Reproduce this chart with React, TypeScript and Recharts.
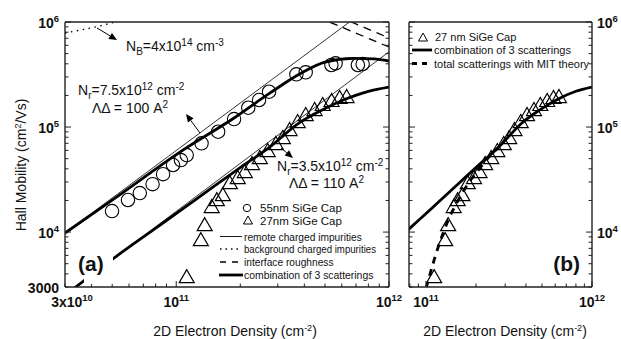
import React from 'react';
import { ComposedChart, Line, Scatter, XAxis, YAxis } from 'recharts';

const FONT = '"Liberation Sans", Arial, Helvetica, sans-serif';
const INK = '#111';

// ---- measured data (read off the figure) ----
// 55 nm SiGe cap, circles
const cap55Density = [4.99e10, 5.93e10, 6.74e10, 7.74e10, 8.67e10, 9.66e10, 1.052e11, 1.12e11, 1.315e11, 1.574e11, 1.87e11, 2.18e11, 2.45e11, 2.73e11, 3.67e11, 4.06e11, 5.36e11, 5.61e11, 7.14e11, 7.52e11];
const cap55Mobility = [15850, 20200, 23500, 28600, 35600, 43500, 48500, 54100, 70000, 90200, 119200, 152700, 180800, 216800, 317600, 332000, 389600, 404600, 389600, 398000];

// 27 nm SiGe cap, triangles (same points in both panels)
const cap27Density = [1.12e11, 1.305e11, 1.36e11, 1.468e11, 1.552e11, 1.656e11, 1.786e11, 1.946e11, 2.1e11, 2.27e11, 2.47e11, 2.69e11, 2.94e11, 3.17e11, 3.41e11, 3.72e11, 4.06e11, 4.47e11, 4.88e11, 5.37e11, 5.86e11, 6.32e11];
const cap27Mobility = [3810, 8570, 11900, 17700, 20600, 23000, 29900, 33400, 38100, 45400, 51800, 60400, 70400, 80300, 95700, 114000, 133000, 148400, 165700, 180800, 193100, 197300];

// combination of 3 scatterings
const comb55Density = [3e10, 5.4e10, 1.07e11, 1.87e11, 2.75e11, 3.8e11, 5e11, 6.8e11, 8.5e11, 1e12];
const comb55Mobility = [9800, 22500, 60000, 122000, 210000, 320000, 415000, 450000, 445000, 425000];
const comb27Density = [3e10, 5.15e10, 7.8e10, 1.04e11, 1.4e11, 2.03e11, 2.7e11, 3.8e11, 4.8e11, 6.1e11, 8e11, 1e12];
const comb27Mobility = [2500, 5750, 10500, 15900, 24500, 42000, 62700, 110000, 144000, 181000, 219000, 240000];

// remote charged impurities (straight on log-log)
const remote55Density = [3e10, 1e12];
const remote55Mobility = [9800, 1.9e6];
const remote27Density = [3e10, 1e12];
const remote27Mobility = [2530, 520000];

// background charged impurities
const bgDensity = [3e10, 4.2e10, 7e10];
const bgMobility = [786000, 900000, 1.2e6];

// interface roughness
const irADensity = [4e11, 1e12];
const irAMobility = [1.26e6, 578000];
const irBDensity = [5e11, 1e12];
const irBMobility = [1.28e6, 705000];

// total scatterings with MIT theory (panel b)
const mitDensity = [1.0e11, 1.186e11, 1.362e11, 1.566e11, 1.8e11, 2.066e11, 2.37e11, 2.7e11];
const mitMobility = [2900, 7250, 13000, 20200, 29100, 38900, 51000, 62700];

// axis ranges and tick labels
const xDomainA: [number, number] = [3e10, 1e12];
const xDomainB: [number, number] = [7.9e10, 1e12];
const yDomain: [number, number] = [3000, 1e6];

type TickLabel = { value: number; base: string; sup?: string };
const xLabelsA: TickLabel[] = [
  { value: 3e10, base: '3x10', sup: '10' },
  { value: 1e11, base: '10', sup: '11' },
  { value: 1e12, base: '10', sup: '12' },
];
const xLabelsB: TickLabel[] = [
  { value: 1e11, base: '10', sup: '11' },
  { value: 1e12, base: '10', sup: '12' },
];
const yLabelsA: TickLabel[] = [
  { value: 1e6, base: '10', sup: '6' },
  { value: 1e5, base: '10', sup: '5' },
  { value: 1e4, base: '10', sup: '4' },
  { value: 3000, base: '3000' },
];
const yLabelsB: TickLabel[] = [
  { value: 1e6, base: '10', sup: '6' },
  { value: 1e5, base: '10', sup: '5' },
  { value: 1e4, base: '10', sup: '4' },
];

const zip = (xs: number[], ys: number[]) => xs.map((x, i) => ({ x, y: ys[i] }));

const logTicks = (lo: number, hi: number) => {
  const out: number[] = [];
  for (let e = 3; e <= 12; e++) {
    for (let m = 1; m < 10; m++) {
      const v = m * 10 ** e;
      if (v >= lo * 0.999 && v <= hi * 1.001) out.push(v);
    }
  }
  return out;
};

const isMajor = (v: number) => {
  const l = Math.log10(v);
  return Math.abs(l - Math.round(l)) < 1e-6;
};

type Side = 'bottom' | 'top' | 'left' | 'right';

function AxisTick(props: any) {
  const { x, y, payload, side, labels } = props;
  const v = payload.value as number;
  const len = isMajor(v) ? 6 : 3.5;
  let line = null;
  if (side === 'bottom') line = <line x1={x} y1={y} x2={x} y2={y - len} />;
  if (side === 'top') line = <line x1={x} y1={y} x2={x} y2={y + len} />;
  if (side === 'left') line = <line x1={x} y1={y} x2={x + len} y2={y} />;
  if (side === 'right') line = <line x1={x} y1={y} x2={x - len} y2={y} />;
  const lab = (labels as TickLabel[]).find((l) => Math.abs(l.value - v) / v < 1e-9);
  let text = null;
  if (lab) {
    let tx = x;
    let ty = y;
    let anchor: 'start' | 'middle' | 'end' = 'middle';
    if (side === 'bottom') {
      ty = y + 20;
      if (lab.base.startsWith('3x')) tx = x + 7;
    } else if (side === 'left') {
      tx = x - 6;
      ty = y + 6;
      anchor = 'end';
    } else if (side === 'right') {
      tx = x + 5;
      ty = y + 6;
      anchor = 'start';
    }
    text = (
      <text x={tx} y={ty} textAnchor={anchor} fontFamily={FONT} fontWeight="bold" fontSize={14} fill={INK} stroke="none">
        {lab.base}
        {lab.sup && (
          <tspan dy={-6} fontSize={9.5}>
            {lab.sup}
          </tspan>
        )}
      </text>
    );
  }
  return (
    <g stroke="#222" strokeWidth={1}>
      {line}
      {text}
    </g>
  );
}

const tickFn = (side: Side, labels: TickLabel[]) => (p: any) => <AxisTick {...p} side={side} labels={labels} />;

const axisLine = { stroke: '#222', strokeWidth: 1.4 };

function frameAxes(xDomain: [number, number], xl: TickLabel[], yl: TickLabel[], yr: TickLabel[]) {
  const xt = logTicks(xDomain[0], xDomain[1]);
  const yt = logTicks(yDomain[0], yDomain[1]);
  const common = { type: 'number' as const, scale: 'log' as const, allowDataOverflow: true, interval: 0 as const, tickSize: 0, tickMargin: 0, tickLine: false, axisLine };
  return [
    <XAxis key="xb" xAxisId={0} dataKey="x" domain={xDomain} ticks={xt} height={1} tick={tickFn('bottom', xl)} {...common} />,
    <XAxis key="xt" xAxisId="top" orientation="top" domain={xDomain} ticks={xt} height={1} tick={tickFn('top', [])} {...common} />,
    <YAxis key="yl" yAxisId={0} dataKey="y" domain={yDomain} ticks={yt} width={1} tick={tickFn('left', yl)} {...common} />,
    <YAxis key="yr" yAxisId="right" orientation="right" domain={yDomain} ticks={yt} width={1} tick={tickFn('right', yr)} {...common} />,
  ];
}

const CircleMark = (p: any) => <circle cx={p.cx} cy={p.cy} r={6.7} fill="none" stroke="#000" strokeWidth={1.1} />;
const TriMark = (p: any) => (
  <polygon
    points={`${p.cx},${p.cy - 6.5} ${p.cx - 7.5},${p.cy + 6.5} ${p.cx + 7.5},${p.cy + 6.5}`}
    fill="none"
    stroke="#000"
    strokeWidth={1.2}
  />
);

function Arrow({ x1, y1, x2, y2 }: { x1: number; y1: number; x2: number; y2: number }) {
  const a = Math.atan2(y2 - y1, x2 - x1);
  const L = 8;
  const w = 3.5;
  const bx = x2 - L * Math.cos(a);
  const by = y2 - L * Math.sin(a);
  const pts = `${x2},${y2} ${bx + w * Math.sin(a)},${by - w * Math.cos(a)} ${bx - w * Math.sin(a)},${by + w * Math.cos(a)}`;
  return (
    <g>
      <line x1={x1} y1={y1} x2={bx} y2={by} stroke="#000" strokeWidth={1} />
      <polygon points={pts} fill="#000" />
    </g>
  );
}

const txt = { fontFamily: FONT, fill: INK } as const;

export default function App() {
  return (
    <div style={{ position: 'absolute', left: 0, top: 0, width: 621, height: 339, background: '#fff' }}>
      <div style={{ position: 'absolute', left: 0, top: 0 }}>
        <ComposedChart width={410} height={339} margin={{ top: 21, right: 20, bottom: 51, left: 64 }}>
          {frameAxes(xDomainA, xLabelsA, yLabelsA, [])}
          <Line data={zip(remote55Density, remote55Mobility)} dataKey="y" type="linear" stroke="#000" strokeWidth={0.8} dot={false} isAnimationActive={false} />
          <Line data={zip(remote27Density, remote27Mobility)} dataKey="y" type="linear" stroke="#000" strokeWidth={0.8} dot={false} isAnimationActive={false} />
          <Line data={zip(bgDensity, bgMobility)} dataKey="y" type="monotone" stroke="#000" strokeWidth={1.4} strokeDasharray="1.5 4.5" dot={false} isAnimationActive={false} />
          <Line data={zip(irADensity, irAMobility)} dataKey="y" type="linear" stroke="#000" strokeWidth={1.3} strokeDasharray="8 6" dot={false} isAnimationActive={false} />
          <Line data={zip(irBDensity, irBMobility)} dataKey="y" type="linear" stroke="#000" strokeWidth={1.3} strokeDasharray="8 6" dot={false} isAnimationActive={false} />
          <Line data={zip(comb55Density, comb55Mobility)} dataKey="y" type="monotone" stroke="#000" strokeWidth={2.8} dot={false} isAnimationActive={false} />
          <Line data={zip(comb27Density, comb27Mobility)} dataKey="y" type="monotone" stroke="#000" strokeWidth={2.8} dot={false} isAnimationActive={false} />
          <Scatter data={zip(cap55Density, cap55Mobility)} dataKey="y" shape={CircleMark} isAnimationActive={false} />
          <Scatter data={zip(cap27Density, cap27Mobility)} dataKey="y" shape={TriMark} isAnimationActive={false} />
        </ComposedChart>
      </div>
      <div style={{ position: 'absolute', left: 0, top: 0 }}>
        <ComposedChart width={621} height={339} margin={{ top: 21, right: 28, bottom: 51, left: 408 }}>
          {frameAxes(xDomainB, xLabelsB, [], yLabelsB)}
          <Line data={zip(mitDensity, mitMobility)} dataKey="y" type="monotone" stroke="#000" strokeWidth={2.8} strokeDasharray="7 6" dot={false} isAnimationActive={false} />
          <Line data={zip(comb27Density, comb27Mobility)} dataKey="y" type="monotone" stroke="#000" strokeWidth={2.8} dot={false} isAnimationActive={false} />
          <Scatter data={zip(cap27Density, cap27Mobility)} dataKey="y" shape={TriMark} isAnimationActive={false} />
        </ComposedChart>
      </div>
      <svg width={621} height={339} style={{ position: 'absolute', left: 0, top: 0, pointerEvents: 'none' }}>
        {/* axis titles */}
        <text {...txt} fontSize={14} textAnchor="middle" transform="translate(26,165) rotate(-90)">
          Hall Mobility (cm<tspan dy={-5} fontSize={9}>2</tspan><tspan dy={5}>/Vs)</tspan>
        </text>
        <text {...txt} fontSize={14} textAnchor="middle" x={235} y={336}>
          2D Electron Density (cm<tspan dy={-5} fontSize={9}>-2</tspan><tspan dy={5}>)</tspan>
        </text>
        <text {...txt} fontSize={14} textAnchor="middle" x={505} y={336}>
          2D Electron Density (cm<tspan dy={-5} fontSize={9}>-2</tspan><tspan dy={5}>)</tspan>
        </text>

        {/* annotations, panel a */}
        <text {...txt} fontSize={14} x={126} y={51}>
          N<tspan dy={4} fontSize={10}>B</tspan><tspan dy={-4}>=4x10</tspan><tspan dy={-5} fontSize={10}>14</tspan><tspan dy={5}> cm</tspan><tspan dy={-5} fontSize={10}>-3</tspan>
        </text>
        <Arrow x1={97} y1={28} x2={117} y2={40} />
        <text {...txt} fontSize={14} x={78} y={95}>
          N<tspan dy={4} fontSize={10}>r</tspan><tspan dy={-4}>=7.5x10</tspan><tspan dy={-5} fontSize={10}>12</tspan><tspan dy={5}> cm</tspan><tspan dy={-5} fontSize={10}>-2</tspan>
        </text>
        <text {...txt} fontSize={14} x={92} y={113}>
          ΛΔ = 100 A<tspan dy={-5} fontSize={10}>2</tspan>
        </text>
        <Arrow x1={200} y1={133} x2={186} y2={114} />
        <Arrow x1={281} y1={148} x2={293} y2={158} />
        <text {...txt} fontSize={14} x={277} y={171}>
          N<tspan dy={4} fontSize={10}>r</tspan><tspan dy={-4}>=3.5x10</tspan><tspan dy={-5} fontSize={10}>12</tspan><tspan dy={5}> cm</tspan><tspan dy={-5} fontSize={10}>-2</tspan>
        </text>
        <text {...txt} fontSize={14} x={289} y={188}>
          ΛΔ = 110 A<tspan dy={-5} fontSize={10}>2</tspan>
        </text>

        {/* legend, panel a */}
        <circle cx={247} cy={208} r={3.7} fill="none" stroke="#000" strokeWidth={1} />
        <text {...txt} fontSize={11.5} x={260} y={212}>55nm SiGe Cap</text>
        <polygon points="248,216 243.5,224 252.5,224" fill="none" stroke="#000" strokeWidth={1} />
        <text {...txt} fontSize={11.5} x={260} y={225}>27nm SiGe Cap</text>
        <line x1={220} y1={236.5} x2={242} y2={236.5} stroke="#000" strokeWidth={0.9} />
        <text {...txt} fontSize={10.2} x={244} y={240.5}>remote charged impurities</text>
        <line x1={220} y1={249} x2={242} y2={249} stroke="#000" strokeWidth={1.3} strokeDasharray="1.5 4" />
        <text {...txt} fontSize={10.2} x={244} y={253} textLength={132} lengthAdjust="spacingAndGlyphs">background charged impurities</text>
        <line x1={220} y1={262} x2={240} y2={262} stroke="#000" strokeWidth={1.3} strokeDasharray="6 6" />
        <text {...txt} fontSize={10.2} x={244} y={266}>interface roughness</text>
        <line x1={219} y1={275} x2={243} y2={275} stroke="#000" strokeWidth={2.8} />
        <text {...txt} fontSize={10.4} x={244} y={279}>combination of 3 scatterings</text>

        {/* panel label a, with its white box over the line */}
        <rect x={84} y={252} width={29} height={32} fill="#fff" />
        <text {...txt} fontSize={21} fontWeight="bold" x={78} y={271}>(a)</text>

        {/* legend, panel b */}
        <polygon points="423,33 418.5,41 427.5,41" fill="none" stroke="#000" strokeWidth={1} />
        <text {...txt} fontSize={11} x={435} y={41}>27 nm SiGe Cap</text>
        <line x1={412} y1={50} x2={432} y2={50} stroke="#000" strokeWidth={2.8} />
        <text {...txt} fontSize={11} x={434} y={54}>combination of 3 scatterings</text>
        <line x1={412} y1={63.5} x2={432} y2={63.5} stroke="#000" strokeWidth={2.8} strokeDasharray="5 5" />
        <text {...txt} fontSize={11} x={434} y={67.5}>total scatterings with MIT theory</text>

        <text {...txt} fontSize={21} fontWeight="bold" x={580} y={271} textAnchor="end">(b)</text>
      </svg>
    </div>
  );
}
